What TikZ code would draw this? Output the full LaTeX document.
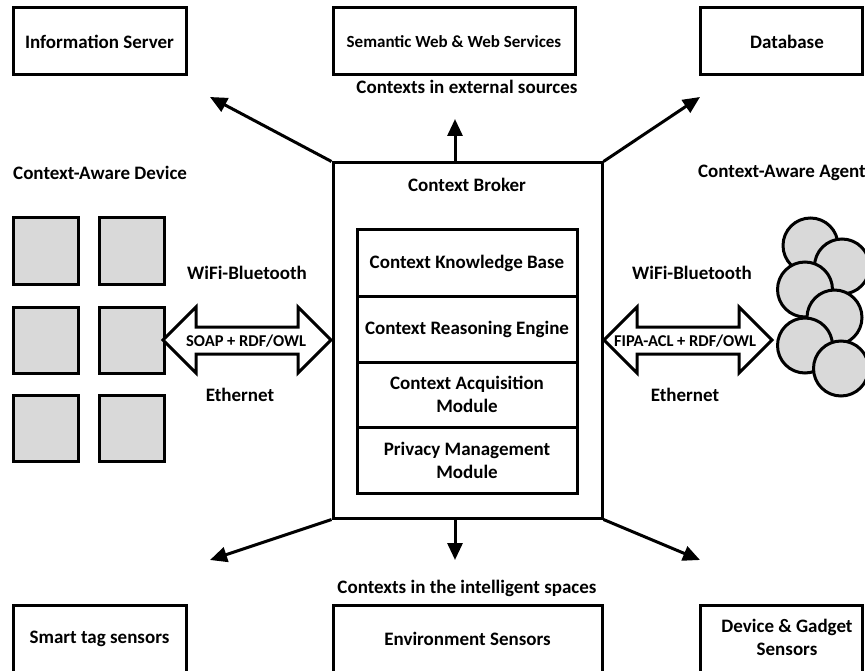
\documentclass[tikz,border=0pt]{standalone}
\usepackage{fontspec}
\setmainfont{Carlito}
\usetikzlibrary{arrows.meta,calc}
\definecolor{devfill}{HTML}{D9D9D9}
\begin{document}
\begin{tikzpicture}[x=1pt,y=-1pt,
  box/.style={draw,line width=3pt,inner sep=0pt,align=center,
    font=\bfseries\fontsize{19}{23}\selectfont},
  lbl/.style={inner sep=0pt,align=center,font=\bfseries\fontsize{19}{23}\selectfont},
  small/.style={inner sep=0pt,font=\bfseries\fontsize{16.5}{19}\selectfont},
  flow/.style={line width=3pt,-{Triangle[length=17pt,width=15pt]}},
  dev/.style={draw,line width=3pt,fill=devfill,inner sep=0pt,minimum width=65pt,minimum height=66pt},
  agent/.style={draw,line width=3pt,fill=devfill,circle,inner sep=0pt,minimum size=55pt},
  link/.style={draw,line width=3pt,fill=white,line join=miter},
]
\clip (0,0) rectangle (865,671);
\useasboundingbox (0,0) rectangle (865,671);

% external sources
\node[box,minimum width=173pt,minimum height=67pt] (info) at (99.5,41.5) {Information Server};
\node[box,minimum width=242pt,minimum height=67pt,font=\bfseries\fontsize{17}{21}\selectfont]
  (sweb) at (454,41.5) {Semantic Web \& Web Services};
\node[box,minimum width=162pt,minimum height=67pt] (db) at (781,41.5) {};
\node[lbl] (dbt) at (787,41.5) {Database};
\node[lbl] (ext) at (467,87) {Contexts in external sources};

% broker
\node[draw,line width=3pt,minimum width=269pt,minimum height=355pt] (broker) at (467.5,340.5) {};
\node[lbl] (brokert) at (467,185) {Context Broker};
\node[box,minimum width=220pt,minimum height=66pt] (kb) at (467,263) {Context Knowledge Base};
\node[box,minimum width=220pt,minimum height=66pt] (re) at (467,329) {Context Reasoning Engine};
\node[box,minimum width=220pt,minimum height=65pt] (aq) at (467,394.5) {Context Acquisition\\Module};
\node[box,minimum width=220pt,minimum height=66pt] (pm) at (467,460) {Privacy Management\\Module};

% arrows from the broker
\coordinate (tl) at (210,97);
\coordinate (tc) at (455,119);
\coordinate (tr) at (700,97);
\coordinate (bl) at (210,560);
\coordinate (bc) at (455,560);
\coordinate (br) at (700,560);
\draw[flow] (broker.north west) -- (tl);
\draw[flow] (455,163) -- (tc);
\draw[flow] (broker.north east) -- (tr);
\draw[flow] (broker.south west) -- (bl);
\draw[flow] (455,518) -- (bc);
\draw[flow] (broker.south east) -- (br);

% intelligent spaces
\node[lbl] (intl) at (467,588) {Contexts in the intelligent spaces};
\node[box,minimum width=173pt,minimum height=67pt] (tag) at (99.5,638.5) {Smart tag sensors};
\node[box,minimum width=269pt,minimum height=67pt] (env) at (467.5,638.5) {Environment Sensors};
\node[box,minimum width=162pt,minimum height=67pt] (gad) at (781,638.5) {};
\node[lbl] (gadt) at (787,637) {Device \& Gadget\\Sensors};

% context-aware device
\node[lbl,anchor=west] (devt) at (13,173) {Context-Aware Device};
\foreach \r/\y in {1/251,2/340,3/428}{
  \node[dev] (d\r a) at (46,\y) {};
  \node[dev] (d\r b) at (131.5,\y) {};
}

% context-aware agent
\node[lbl,anchor=east] (agt) at (866,173) {Context-Aware Agent};
\node[agent] (c1) at (810.5,245.5) {};
\node[agent] (c2) at (842,266.5) {};
\node[agent] (c3) at (805,289.5) {};
\node[agent] (c4) at (834.5,317.5) {};
\node[agent] (c5) at (805,345.5) {};
\node[agent] (c6) at (841,368.5) {};

% communication links
\draw[link] (163,340) -- (196,307) -- (196,327) -- (298,327) -- (298,307) -- (331,340)
  -- (298,373) -- (298,354) -- (196,354) -- (196,373) -- cycle;
\node[small] (soap) at (246,341) {SOAP + RDF/OWL};
\node[lbl] (wl) at (247,273) {WiFi-Bluetooth};
\node[lbl] (el) at (240,395) {Ethernet};

\draw[link] (604,340) -- (637,307) -- (637,327) -- (739,327) -- (739,307) -- (772,340)
  -- (739,373) -- (739,354) -- (637,354) -- (637,373) -- cycle;
\node[small] (fipa) at (685,341) {FIPA-ACL + RDF/OWL};
\node[lbl] (wr) at (692,273) {WiFi-Bluetooth};
\node[lbl] (er) at (685,395) {Ethernet};
\end{tikzpicture}
\end{document}
